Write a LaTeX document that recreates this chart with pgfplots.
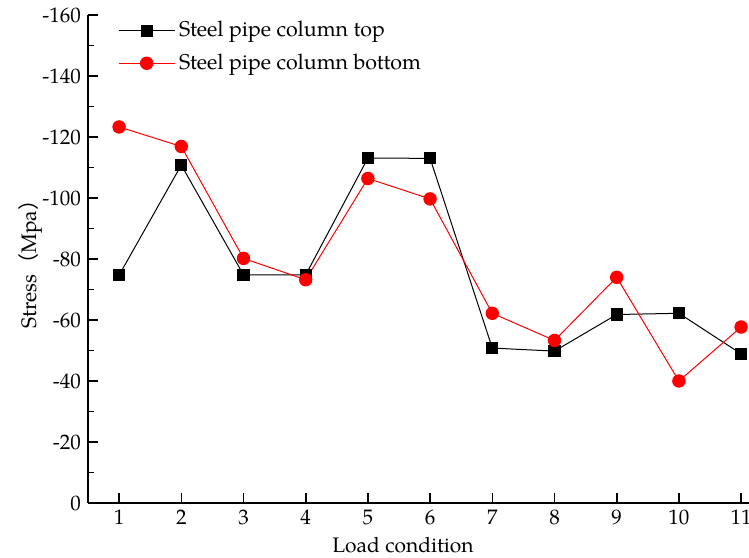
\documentclass[border=0pt]{standalone}
\usepackage{fontspec}
\setmainfont{texgyrepagella}[Extension=.otf, UprightFont=*-regular, BoldFont=*-bold, ItalicFont=*-italic, BoldItalicFont=*-bolditalic]
\newfontfamily\cjk{Noto Sans CJK SC}
\usepackage{pgfplots}
\pgfplotsset{compat=1.18}
\begin{document}
\begin{tikzpicture}
\begin{axis}[
  scale only axis,
  width=330.5pt, height=244pt,
  font=\fontsize{10.5}{12.6}\selectfont,
  xmin=0.5, xmax=11.127,
  ymin=-160, ymax=0,
  y dir=reverse,
  axis x line*=bottom, axis y line*=left,
  axis line style={line width=1pt},
  every tick/.style={black, line width=0.8pt},
  tick align=inside,
  major tick length=5pt, minor tick length=3pt,
  xtick={1,...,11},
  ytick={-160,-140,...,0},
  minor y tick num=1,
  /pgf/number format/assume math mode=true,
  yticklabel style={/pgf/number format/fixed},
  xlabel={Load condition},
  ylabel={Stress{\cjk （}Mpa{\cjk ）}},
  xlabel style={at={(axis description cs:0.4766,-0.086)}, anchor=center},
  ylabel style={at={(axis description cs:-0.0877,0.5)}, anchor=center},
  legend style={draw=none, fill=none, at={(axis description cs:0.036,1.004)}, anchor=north west, row sep=3pt, font=\fontsize{10.7}{12.8}\selectfont},
  legend cell align=left,
  legend image code/.code={\draw[mark repeat=2,mark phase=2] plot coordinates {(0pt,0pt) (14pt,0pt) (28pt,0pt)};},
]
\addplot[black, line width=0.5pt, mark=square*, mark size=2.8pt, mark options={solid, fill=black}] coordinates {
(1,-74.7) (2,-110.8) (3,-74.8) (4,-74.8) (5,-113.1) (6,-113.0) (7,-50.8) (8,-49.8) (9,-61.8) (10,-62.2) (11,-48.9)};
\addlegendentry{Steel pipe column top}
\addplot[red, line width=0.5pt, mark=*, mark size=3.1pt, mark options={solid, fill=red, draw=red}] coordinates {
(1,-123.3) (2,-116.9) (3,-80.2) (4,-73.2) (5,-106.4) (6,-99.7) (7,-62.2) (8,-53.3) (9,-74.0) (10,-40.0) (11,-57.7)};
\addlegendentry{Steel pipe column bottom}
\end{axis}
\pgfresetboundingbox
\useasboundingbox (-44pt,-27pt) rectangle (330.5pt,251.5pt);
\end{tikzpicture}
\end{document}
